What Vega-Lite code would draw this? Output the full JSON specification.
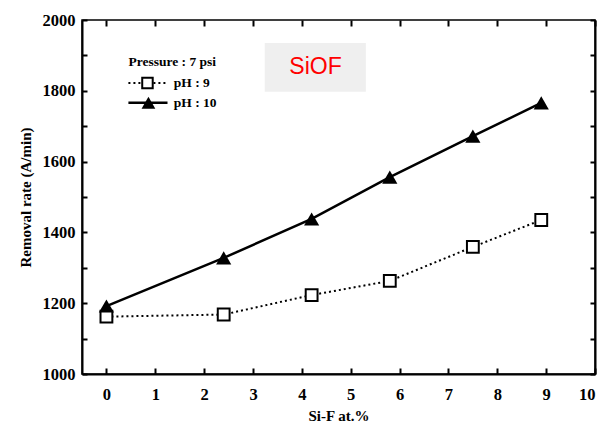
{
  "$schema": "https://vega.github.io/schema/vega-lite/v6.json",
  "width": 513,
  "height": 354,
  "autosize": {"type": "none"},
  "padding": {"left": 82, "top": 20, "right": 11, "bottom": 54},
  "background": "white",
  "config": {
    "view": {"stroke": "black", "strokeWidth": 1.5},
    "axis": {
      "labelFont": "Liberation Serif", "labelFontWeight": "bold", "labelFontSize": 16.5, "labelColor": "black",
      "titleFont": "Liberation Serif", "titleFontWeight": "bold", "titleFontSize": 15, "titleColor": "black",
      "domainColor": "black", "tickColor": "black", "grid": false
    }
  },
  "datasets": {
    "main": [
      {"sif": 0, "rate": 1162, "series": "pH: 9"},
      {"sif": 2.4, "rate": 1168, "series": "pH: 9"},
      {"sif": 4.2, "rate": 1223, "series": "pH: 9"},
      {"sif": 5.8, "rate": 1263, "series": "pH: 9"},
      {"sif": 7.5, "rate": 1359, "series": "pH: 9"},
      {"sif": 8.9, "rate": 1435, "series": "pH: 9"},
      {"sif": 0, "rate": 1192, "series": "pH: 10"},
      {"sif": 2.4, "rate": 1328, "series": "pH: 10"},
      {"sif": 4.2, "rate": 1438, "series": "pH: 10"},
      {"sif": 5.8, "rate": 1556, "series": "pH: 10"},
      {"sif": 7.5, "rate": 1672, "series": "pH: 10"},
      {"sif": 8.9, "rate": 1766, "series": "pH: 10"}
    ]
  },
  "resolve": {"axis": {"x": "independent", "y": "independent"}},
  "layer": [
    {
      "data": {"values": [{"x1": 3.24, "x2": 5.31, "y1": 1797, "y2": 1935}]},
      "mark": {"type": "rect", "fill": "#efefef"},
      "encoding": {
        "x": {"field": "x1", "type": "quantitative", "scale": {"domain": [-0.5, 10], "nice": false, "zero": false}, "axis": null},
        "x2": {"field": "x2"},
        "y": {"field": "y1", "type": "quantitative", "scale": {"domain": [1000, 2000], "nice": false, "zero": false}, "axis": null},
        "y2": {"field": "y2"}
      }
    },
    {
      "data": {"values": [{"x": 4.28, "y": 1866, "t": "SiOF"}]},
      "mark": {"type": "text", "font": "Liberation Sans", "fontSize": 23, "color": "#ff0000", "align": "center", "baseline": "middle"},
      "encoding": {
        "x": {"field": "x", "type": "quantitative", "axis": null},
        "y": {"field": "y", "type": "quantitative", "axis": null},
        "text": {"field": "t"}
      }
    },
    {
      "data": {"name": "main"},
      "transform": [{"filter": "datum.series === 'pH: 9'"}],
      "mark": {"type": "line", "color": "black", "strokeWidth": 2, "strokeDash": [2, 3]},
      "encoding": {
        "x": {"field": "sif", "type": "quantitative", "title": "Si-F at.%",
          "axis": {"values": [0,1,2,3,4,5,6,7,8,9,10], "domainWidth": 2, "tickSize": -6, "tickWidth": 2, "labelPadding": 18, "titlePadding": 6}},
        "y": {"field": "rate", "type": "quantitative", "title": "Removal rate (A/min)",
          "axis": {"values": [1000,1100,1200,1300,1400,1500,1600,1700,1800,1900,2000], "labelExpr": "datum.value % 200 === 0 ? datum.label : ''", "domainWidth": 2, "tickSize": -5, "tickWidth": 2, "labelPadding": 12, "titlePadding": 9, "format": "d"}}
      }
    },
    {
      "data": {"name": "main"},
      "transform": [{"filter": "datum.series === 'pH: 10'"}],
      "mark": {"type": "line", "color": "black", "strokeWidth": 2.5},
      "encoding": {
        "x": {"field": "sif", "type": "quantitative", "axis": null},
        "y": {"field": "rate", "type": "quantitative", "axis": null}
      }
    },
    {
      "data": {"name": "main"},
      "transform": [{"filter": "datum.series === 'pH: 9'"}],
      "mark": {"type": "point", "shape": "square", "size": 140, "filled": true, "fill": "white", "stroke": "black", "strokeWidth": 2, "opacity": 1},
      "encoding": {
        "x": {"field": "sif", "type": "quantitative", "axis": null},
        "y": {"field": "rate", "type": "quantitative", "axis": null}
      }
    },
    {
      "data": {"name": "main"},
      "transform": [{"filter": "datum.series === 'pH: 10'"}],
      "mark": {"type": "point", "shape": "triangle-up", "size": 230, "filled": true, "color": "black", "opacity": 1},
      "encoding": {
        "x": {"field": "sif", "type": "quantitative", "axis": null},
        "y": {"field": "rate", "type": "quantitative", "axis": null}
      }
    },
    {
      "data": {"values": [{"x": 0.45, "y": 1822}, {"x": 1.22, "y": 1822}]},
      "mark": {"type": "line", "color": "black", "strokeWidth": 2, "strokeDash": [2, 3]},
      "encoding": {
        "x": {"field": "x", "type": "quantitative", "axis": null},
        "y": {"field": "y", "type": "quantitative", "axis": null}
      }
    },
    {
      "data": {"values": [{"x": 0.45, "y": 1766}, {"x": 1.25, "y": 1766}]},
      "mark": {"type": "line", "color": "black", "strokeWidth": 2.5},
      "encoding": {
        "x": {"field": "x", "type": "quantitative", "axis": null},
        "y": {"field": "y", "type": "quantitative", "axis": null}
      }
    },
    {
      "data": {"values": [{"x": 0.84, "y": 1822}]},
      "mark": {"type": "point", "shape": "square", "size": 110, "filled": true, "fill": "white", "stroke": "black", "strokeWidth": 2, "opacity": 1},
      "encoding": {
        "x": {"field": "x", "type": "quantitative", "axis": null},
        "y": {"field": "y", "type": "quantitative", "axis": null}
      }
    },
    {
      "data": {"values": [{"x": 0.86, "y": 1766}]},
      "mark": {"type": "point", "shape": "triangle-up", "size": 190, "filled": true, "color": "black", "opacity": 1},
      "encoding": {
        "x": {"field": "x", "type": "quantitative", "axis": null},
        "y": {"field": "y", "type": "quantitative", "axis": null}
      }
    },
    {
      "data": {"values": [
        {"x": 0.45, "y": 1881, "t": "Pressure : 7 psi"},
        {"x": 1.38, "y": 1822, "t": "pH : 9"},
        {"x": 1.38, "y": 1766, "t": "pH : 10"}
      ]},
      "mark": {"type": "text", "font": "Liberation Serif", "fontWeight": "bold", "fontSize": 13.5, "color": "black", "align": "left", "baseline": "middle"},
      "encoding": {
        "x": {"field": "x", "type": "quantitative", "axis": null},
        "y": {"field": "y", "type": "quantitative", "axis": null},
        "text": {"field": "t"}
      }
    },
    {
      "data": {"name": "main"},
      "mark": {"type": "point", "opacity": 0},
      "encoding": {
        "x": {"field": "sif", "type": "quantitative",
          "axis": {"orient": "top", "values": [0,1,2,3,4,5,6,7,8,9,10], "labels": false, "title": null, "domain": false, "tickSize": -6, "tickWidth": 2}},
        "y": {"field": "rate", "type": "quantitative",
          "axis": {"orient": "right", "values": [1000,1100,1200,1300,1400,1500,1600,1700,1800,1900,2000], "labels": false, "title": null, "domainWidth": 2, "tickSize": -5, "tickWidth": 2}}
      }
    }
  ]
}
